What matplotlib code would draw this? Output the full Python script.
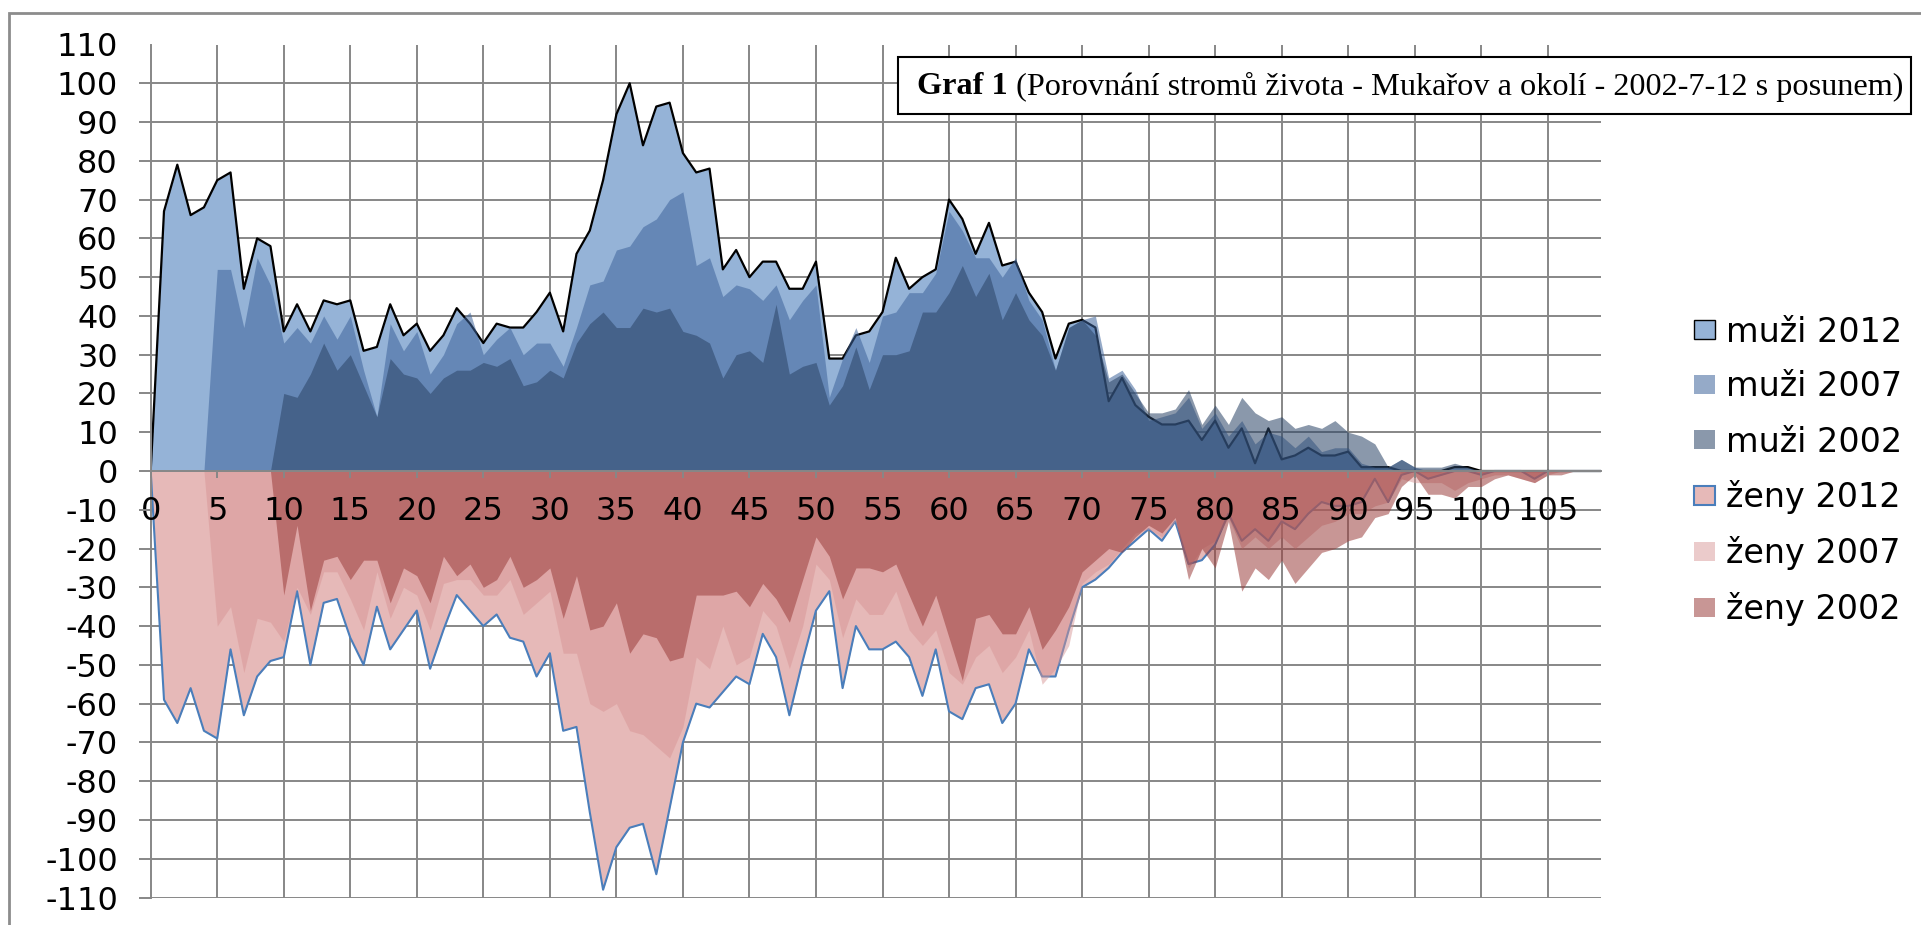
import numpy as np
import matplotlib
matplotlib.use("Agg")
import matplotlib.pyplot as plt
from matplotlib.patches import Patch, Rectangle

plt.rcParams["axes.unicode_minus"] = False

# ages 0..109 (2007 data shifted +5, 2002 data shifted +10)
ages = list(range(110))

men_2012 = [
    0, 67, 79, 66, 68, 75, 77, 47, 60, 58,
    36, 43, 36, 44, 43, 44, 31, 32, 43, 35,
    38, 31, 35, 42, 38, 33, 38, 37, 37, 41,
    46, 36, 56, 62, 75, 92, 100, 84, 94, 95,
    82, 77, 78, 52, 57, 50, 54, 54, 47, 47,
    54, 29, 29, 35, 36, 41, 55, 47, 50, 52,
    70, 65, 56, 64, 53, 54, 46, 41, 29, 38,
    39, 37, 18, 24, 17, 14, 12, 12, 13, 8,
    13, 6, 11, 2, 11, 3, 4, 6, 4, 4,
    5, 1, 1, 1, 0, 0, 0, 0, 1, 1,
    0, 0, 0, 0, 0, 0, 0, 0, 0, 0,
]
men_2007 = [
    0, 0, 0, 0, 0, 52, 52, 37, 55, 48,
    33, 37, 33, 40, 34, 40, 26, 14, 38, 31,
    36, 25, 30, 38, 41, 30, 34, 37, 30, 33,
    33, 27, 37, 48, 49, 57, 58, 63, 65, 70,
    72, 53, 55, 45, 48, 47, 44, 48, 39, 44,
    48, 19, 29, 37, 28, 40, 41, 46, 46, 51,
    67, 62, 55, 55, 50, 55, 44, 39, 26, 37,
    39, 40, 24, 26, 21, 13, 14, 15, 19, 11,
    15, 9, 13, 7, 10, 9, 6, 9, 5, 6,
    6, 2, 1, 1, 3, 1, 0, 0, 0, 0,
    0, 0, 0, 0, 0, 0, 0, 0, 0, 0,
]
men_2002 = [
    0, 0, 0, 0, 0, 0, 0, 0, 0, 0,
    20, 19, 25, 33, 26, 30, 22, 14, 29, 25,
    24, 20, 24, 26, 26, 28, 27, 29, 22, 23,
    26, 24, 33, 38, 41, 37, 37, 42, 41, 42,
    36, 35, 33, 24, 30, 31, 28, 43, 25, 27,
    28, 17, 22, 32, 21, 30, 30, 31, 41, 41,
    46, 53, 45, 51, 39, 46, 39, 35, 26, 37,
    39, 35, 23, 25, 20, 15, 15, 16, 21, 12,
    17, 12, 19, 15, 13, 14, 11, 12, 11, 13,
    10, 9, 7, 1, 3, 1, 1, 1, 2, 1,
    0, 0, 0, 0, 0, 0, 0, 0, 0, 0,
]
women_2012 = [
    0, 59, 65, 56, 67, 69, 46, 63, 53, 49,
    48, 31, 50, 34, 33, 43, 50, 35, 46, 41,
    36, 51, 41, 32, 36, 40, 37, 43, 44, 53,
    47, 67, 66, 88, 108, 97, 92, 91, 104, 87,
    70, 60, 61, 57, 53, 55, 42, 48, 63, 49,
    36, 31, 56, 40, 46, 46, 44, 48, 58, 46,
    62, 64, 56, 55, 65, 60, 46, 53, 53, 41,
    30, 28, 25, 21, 18, 15, 18, 13, 24, 23,
    19, 11, 18, 15, 18, 13, 15, 11, 8, 9,
    9, 8, 2, 8, 1, 0, 2, 1, 0, 0,
    1, 0, 0, 0, 2, 0, 0, 0, 0, 0,
]
women_2007 = [
    0, 0, 0, 0, 0, 40, 35, 52, 38, 39,
    44, 30, 37, 26, 26, 33, 41, 26, 38, 30,
    32, 41, 29, 28, 28, 32, 32, 28, 37, 34,
    31, 47, 47, 60, 62, 60, 67, 68, 71, 74,
    66, 48, 51, 40, 50, 48, 36, 40, 51, 40,
    24, 28, 43, 33, 37, 37, 31, 41, 45, 41,
    52, 55, 48, 45, 52, 48, 41, 55, 51, 45,
    29, 26, 24, 20, 16, 15, 17, 13, 25, 20,
    18, 12, 20, 17, 20, 17, 20, 17, 14, 13,
    11, 11, 9, 8, 2, 3, 3, 3, 5, 3,
    2, 1, 1, 2, 3, 1, 0, 0, 0, 0,
]
women_2002 = [
    0, 0, 0, 0, 0, 0, 0, 0, 0, 0,
    32, 14, 36, 23, 22, 28, 23, 23, 34, 25,
    27, 34, 22, 27, 24, 30, 28, 22, 30, 28,
    25, 38, 27, 41, 40, 34, 47, 42, 43, 49,
    48, 32, 32, 32, 31, 35, 29, 33, 39, 28,
    17, 22, 33, 25, 25, 26, 24, 32, 40, 32,
    43, 54, 38, 37, 42, 42, 35, 46, 41, 35,
    26, 23, 20, 21, 17, 14, 16, 12, 28, 20,
    25, 13, 31, 25, 28, 23, 29, 25, 21, 20,
    18, 17, 12, 11, 4, 1, 6, 6, 7, 4,
    4, 2, 1, 2, 3, 1, 1, 0, 0, 0,
]

labels = ["muži 2012", "muži 2007", "muži 2002", "ženy 2012", "ženy 2007", "ženy 2002"]
title_bold = "Graf 1"
title_rest = " (Porovnání stromů života - Mukařov a okolí - 2002-7-12 s posunem)"

GRID = "#878787"
M12, M07, M02 = "#95B3D7", "#3F649B", "#2B4466"
W12, W07, W02 = "#E6B9B8", "#D79393", "#9B3D3B"
A07_M, A02_M = 0.55, 0.55
A07_W, A02_W = 0.48, 0.54

W_PX, H_PX = 1921, 925
fig = plt.figure(figsize=(W_PX / 100, H_PX / 100), dpi=100)
x0, x1, ytop, ybot = 150.7, 1601, 44.5, 897.5
ax = fig.add_axes([x0 / W_PX, 1 - ybot / H_PX, (x1 - x0) / W_PX, (ybot - ytop) / H_PX])

x = np.array(ages)
m12, m07, m02 = np.array(men_2012), np.array(men_2007), np.array(men_2002)
w12, w07, w02 = -np.array(women_2012), -np.array(women_2007), -np.array(women_2002)

# men: 2012 underneath with outline, older years as translucent overlays
ax.fill_between(x, 0, m12, color=M12, lw=0, zorder=1)
ax.plot(x, m12, color="black", lw=1.6, zorder=1.1)
ax.fill_between(x, 0, m07, color=M07, alpha=A07_M, lw=0, zorder=1.2)
ax.fill_between(x, 0, m02, color=M02, alpha=A02_M, lw=0, zorder=1.3)

# women
ax.fill_between(x, 0, w12, color=W12, lw=0, zorder=1)
ax.plot(x, w12, color="#4A7EBB", lw=1.5, zorder=1.1)
ax.fill_between(x, 0, w07, color=W07, alpha=A07_W, lw=0, zorder=1.2)
ax.fill_between(x, 0, w02, color=W02, alpha=A02_W, lw=0, zorder=1.3)

ax.set_xlim(0, 109)
ax.set_ylim(-110, 110)
xt = np.arange(0, 106, 5)
yt = np.arange(-110, 111, 10)
ax.vlines(xt[1:], -110, 110, color=GRID, lw=1.4, zorder=0.5)
ax.hlines(yt[:-1], 0, 109, color=GRID, lw=1.4, zorder=0.5)

ax.set_axisbelow(False)
ax.set_xticks(xt)
ax.set_yticks(yt)
for s in ("top", "right"):
    ax.spines[s].set_visible(False)
ax.spines["bottom"].set_position(("data", 0))
for s in ("bottom", "left"):
    ax.spines[s].set_color(GRID)
    ax.spines[s].set_linewidth(1.4)

ax.tick_params(axis="x", direction="out", length=5, width=1.4, color=GRID,
               pad=13, labelsize=23)
ax.tick_params(axis="y", direction="out", length=8.6, width=1.4, color=GRID,
               pad=15, labelsize=23)
ax.yaxis.get_major_ticks()[-1].tick1line.set_visible(False)
for lab in ax.get_xticklabels() + ax.get_yticklabels():
    lab.set_family("DejaVu Sans")

# legend
handles = [
    Patch(facecolor=M12, edgecolor="black", lw=1.0),
    Patch(facecolor=M07, alpha=A07_M, edgecolor="none"),
    Patch(facecolor=M02, alpha=A02_M, edgecolor="none"),
    Patch(facecolor=W12, edgecolor="#4A7EBB", lw=1.5),
    Patch(facecolor=W07, alpha=A07_W, edgecolor="none"),
    Patch(facecolor=W02, alpha=A02_W, edgecolor="none"),
]
fig.legend(handles, labels, loc="center left",
           bbox_to_anchor=(1694 / W_PX, 1 - 471 / H_PX),
           frameon=False, prop={"family": "DejaVu Sans", "size": 24},
           handlelength=0.63, handleheight=0.5, handletextpad=0.33,
           labelspacing=0.66, borderpad=0, borderaxespad=0)

# outer chart border (runs off the right and bottom edges)
fig.add_artist(Rectangle((9 / W_PX, -0.05), 1.2, 1 - 13 / H_PX + 0.05,
                         transform=fig.transFigure, fill=False,
                         ec="#8C8C8C", lw=2))

# title box
fig.add_artist(Rectangle((898 / W_PX, 1 - 114 / H_PX), (1911 - 898) / W_PX, 57 / H_PX,
                         transform=fig.transFigure, fc="white", ec="black",
                         lw=1.5, zorder=5))
ty = 1 - 87 / H_PX
t1 = fig.text(917 / W_PX, ty, title_bold, family="Liberation Serif",
              weight="bold", size=23.2, va="center", zorder=6)
fig.canvas.draw()
bb = t1.get_window_extent()
fig.text(bb.x1 / W_PX, ty, title_rest, family="Liberation Serif",
         size=23.2, va="center", zorder=6)

fig.savefig("out.png", dpi=100)
